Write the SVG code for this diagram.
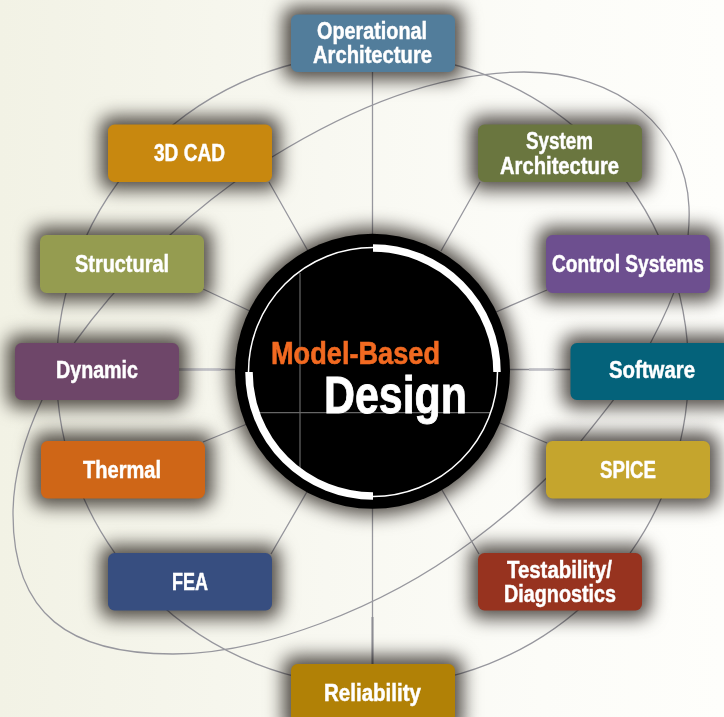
<svg xmlns="http://www.w3.org/2000/svg" width="724" height="717" viewBox="0 0 724 717">
<style>
text{font-family:"Liberation Sans",Arial,sans-serif;font-weight:700;fill:#fff;stroke:#fff;stroke-width:.45px}
.lb{font-size:23px;text-anchor:start}
.sh{fill:#524d49;filter:url(#blur);mix-blend-mode:multiply}
.cn{fill:none;stroke:#97979e;stroke-width:1.3}
</style>
<defs>
<linearGradient id="bg" x1="0" y1="0" x2="1" y2="0"><stop offset="0" stop-color="#f2f2e5"/><stop offset=".45" stop-color="#f8f8f1"/><stop offset=".75" stop-color="#fcfcf8"/><stop offset="1" stop-color="#fefefb"/></linearGradient>
<filter id="blur" x="-40%" y="-100%" width="180%" height="300%" color-interpolation-filters="sRGB"><feGaussianBlur stdDeviation="9"/></filter>
<filter id="blurc" x="-20%" y="-20%" width="140%" height="140%" color-interpolation-filters="sRGB"><feGaussianBlur stdDeviation="9"/></filter>
</defs>
<rect width="724" height="717" fill="url(#bg)"/>
<g id="connectors">
<circle class="cn" cx="372.5" cy="370" r="316"/>
<path class="cn" d="M42 400C27 432 13 472 13 514C13 615 70 654 173 654C260 654 380 610 471 542C510 513 550 478 581 441C610 405 632 378 651 342C675 297 691 255 689 207C686 130 620 72 524 72C430 72 340 115 272 157C235 180 200 207 170 235C135 268 105 300 75 342C62 362 50 382 42 400Z"/>
<path class="cn" d="M372.5 72V240M372.5 500V664M269 182L308 251M480 182L441 251M203 289L252 312M547 290L496 312M203 442L247 424M547 443L500 423M271 554L308 490M479 554L442 490M179 369.5H240M510 369.5H570"/>
<path d="M179 369.5H221M529 369.5H554" fill="none" stroke="#c2c2c8" stroke-width="2.4"/>
<path d="M372.5 617V664" fill="none" stroke="#8d8d94" stroke-width="2"/>
</g>
<g id="node-operational"><rect class="sh" x="283" y="6.5" width="180" height="73.5" rx="12"/><rect x="291" y="14.5" width="164" height="57.5" rx="6.5" fill="#527d9b"/><text class="lb" x="317" y="38.5" textLength="110" lengthAdjust="spacingAndGlyphs">Operational</text><text class="lb" x="313" y="63" textLength="119" lengthAdjust="spacingAndGlyphs">Architecture</text></g>
<g id="node-3dcad"><rect class="sh" x="100" y="116.5" width="180" height="73.5" rx="12"/><rect x="108" y="124.5" width="164" height="57.5" rx="6.5" fill="#c8880f"/><text class="lb" x="154" y="160.5" textLength="71" lengthAdjust="spacingAndGlyphs">3D CAD</text></g>
<g id="node-system"><rect class="sh" x="470" y="116.5" width="180" height="73.5" rx="12"/><rect x="478" y="124.5" width="164" height="57.5" rx="6.5" fill="#6a763f"/><text class="lb" x="526" y="149" textLength="67" lengthAdjust="spacingAndGlyphs">System</text><text class="lb" x="500" y="173.5" textLength="119" lengthAdjust="spacingAndGlyphs">Architecture</text></g>
<g id="node-structural"><rect class="sh" x="32" y="227" width="180" height="74" rx="12"/><rect x="40" y="235" width="164" height="58" rx="6.5" fill="#959c50"/><text class="lb" x="75" y="271.5" textLength="94" lengthAdjust="spacingAndGlyphs">Structural</text></g>
<g id="node-control"><rect class="sh" x="538" y="227" width="180" height="74" rx="12"/><rect x="546" y="235" width="164" height="58" rx="6.5" fill="#6d4f8f"/><text class="lb" transform="translate(552 271.5) scale(.8317 1)">Control Systems</text></g>
<g id="node-dynamic"><rect class="sh" x="7" y="335" width="180" height="73" rx="12"/><rect x="15" y="343" width="164" height="57" rx="6.5" fill="#6e4669"/><text class="lb" x="56" y="377.5" textLength="82" lengthAdjust="spacingAndGlyphs">Dynamic</text></g>
<g id="node-software"><rect class="sh" x="562.5" y="335" width="180" height="73" rx="12"/><rect x="570.5" y="343" width="164" height="57" rx="6.5" fill="#04627a"/><text class="lb" x="609" y="377.5" textLength="86" lengthAdjust="spacingAndGlyphs">Software</text></g>
<g id="node-thermal"><rect class="sh" x="33" y="433" width="180" height="73.5" rx="12"/><rect x="41" y="441" width="164" height="57.5" rx="6.5" fill="#cf6617"/><text class="lb" x="83" y="477.5" textLength="78" lengthAdjust="spacingAndGlyphs">Thermal</text></g>
<g id="node-spice"><rect class="sh" x="538" y="433" width="180" height="73.5" rx="12"/><rect x="546" y="441" width="164" height="57.5" rx="6.5" fill="#c5a52d"/><text class="lb" x="600" y="477.5" textLength="56" lengthAdjust="spacingAndGlyphs">SPICE</text></g>
<g id="node-fea"><rect class="sh" x="100" y="545" width="180" height="73.5" rx="12"/><rect x="108" y="553" width="164" height="57.5" rx="6.5" fill="#374e80"/><text class="lb" x="172" y="589.5" textLength="36" lengthAdjust="spacingAndGlyphs">FEA</text></g>
<g id="node-testability"><rect class="sh" x="470" y="545" width="180" height="73.5" rx="12"/><rect x="478" y="553" width="164" height="57.5" rx="6.5" fill="#97331f"/><text class="lb" x="507" y="577.5" textLength="105" lengthAdjust="spacingAndGlyphs">Testability/</text><text class="lb" x="504" y="601.5" textLength="112" lengthAdjust="spacingAndGlyphs">Diagnostics</text></g>
<g id="node-reliability"><rect class="sh" x="283" y="656" width="180" height="78" rx="12"/><rect x="291" y="664" width="164" height="62" rx="6.5" fill="#b18106"/><text class="lb" x="324" y="700.5" textLength="97" lengthAdjust="spacingAndGlyphs">Reliability</text></g>
<g id="node-center">
<circle cx="372.5" cy="371.3" r="144" fill="#524d49" filter="url(#blurc)" style="mix-blend-mode:multiply"/>
<circle cx="372.5" cy="371.3" r="137.5" fill="#000"/>
<path d="M300 273V468M259 412.7H490" fill="none" stroke="#666" stroke-width="1.2"/>
<circle cx="373" cy="372" r="124.5" fill="none" stroke="#fff" stroke-width="1.5"/>
<path d="M373 248A124 124 0 0 1 497 372M249 372A124 124 0 0 0 373 496" fill="none" stroke="#fff" stroke-width="7.5"/>
<text x="271" y="363.5" font-size="31" style="fill:#f26a21;stroke:#f26a21;stroke-width:.6px" textLength="169" lengthAdjust="spacingAndGlyphs">Model-Based</text>
<text x="324" y="412.5" font-size="51" style="stroke-width:.9px" textLength="143" lengthAdjust="spacingAndGlyphs">Design</text>
</g>
</svg>
